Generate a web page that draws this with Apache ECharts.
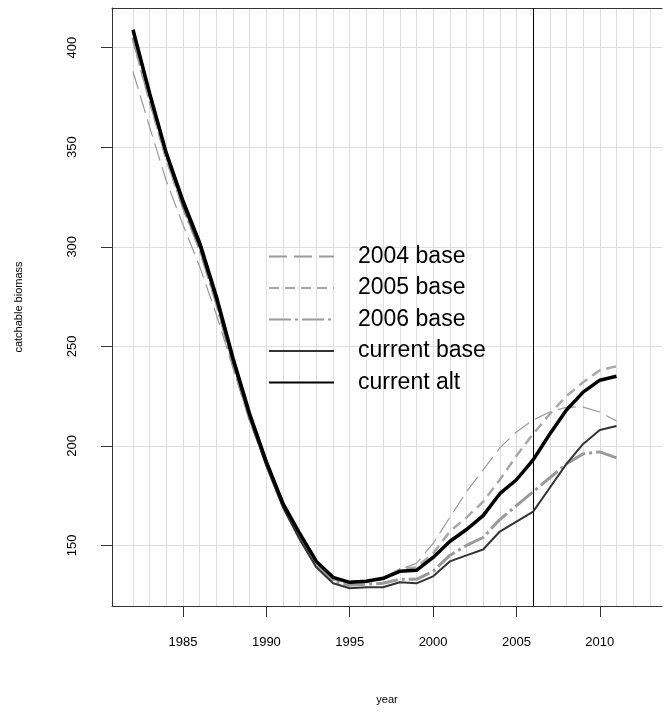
<!DOCTYPE html>
<html>
<head>
<meta charset="utf-8">
<script src="https://cdn.jsdelivr.net/npm/echarts@6/dist/echarts.min.js"></script>
<style>html,body{margin:0;padding:0;background:#fff}#c{width:665px;height:711px}</style>
</head>
<body>
<div id="c"></div>
<script>
var years = [1982,1983,1984,1985,1986,1987,1988,1989,1990,1991,1992,1993,1994,1995,1996,1997,1998,1999,2000,2001,2002,2003,2004,2005,2006,2007,2008,2009,2010,2011];
var base2004 = [388,360,333,311,290,266,239,212,190,170,154,141,133,131,132,134,138,141,151,164,177,188,199,207,213,217,219.5,219.5,217,212.5];
var base2005 = [404,373,344,320,299,272,242,215,192,171,155,141,133,131,132,133,138,139,146,157,164,172,183,195,206,216,225,232,238,240];
var base2006 = [405,374,345,320,299,272,241,214,191,170,154,140,132,130,130.5,131,133,133,137,145,150,154,163,170,177,184,191,196,197,194];
var currentBase = [408,376,346,321,300,273,242,214,190,169,153,139,131,128.5,129,129,131.5,131,134.5,142,145,148,157,162,167,179,191,201,208,210];
var currentAlt = [409,377,347,323,302,275,244,216,192,171,156,142,134,131.5,132,133.5,137,137.5,144,152,158,165,176,183,193,206,218,227,233,235];
var xTickLabels = [1985,1990,1995,2000,2005,2010];
var yTickLabels = [150,200,250,300,350,400];
var gridYears = [1982,1983,1984,1985,1986,1987,1988,1989,1990,1991,1992,1993,1994,1995,1996,1997,1998,1999,2000,2001,2002,2003,2004,2005,2006,2007,2008,2009,2010,2011,2012,2013];
var refYear = 2006;
var seriesNames = ['2004 base','2005 base','2006 base','current base','current alt'];

function pairs(v){ return years.map(function(y,i){ return [y, v[i]]; }); }

var FONT = 'Liberation Sans, Arial, sans-serif';
var xMin = 1980.74, xMax = 2013.73, yMin = 119.6, yMax = 419.9;

var styles = [
  {color:'#9a9a9a', width:1.2, type:[18,7]},
  {color:'#a8a8a8', width:2.5, type:[10,6]},
  {color:'#9a9a9a', width:3, type:[22,4,3,4]},
  {color:'#333333', width:2, type:'solid'},
  {color:'#000000', width:3.5, type:'solid'}
];
var datas = [base2004, base2005, base2006, currentBase, currentAlt];

var series = datas.map(function(d,i){
  return {
    name: seriesNames[i], type:'line', xAxisIndex:0, yAxisIndex:0,
    data: pairs(d), symbol:'none', smooth:false, silent:true,
    lineStyle: {color: styles[i].color, width: styles[i].width, type: styles[i].type},
    itemStyle: {color: styles[i].color},
    z: 3 + i
  };
});
series[0].markLine = {
  silent:true, symbol:['none','none'], label:{show:false},
  lineStyle:{color:'#000', width:1, type:'solid'},
  data:[{xAxis: refYear}], z: 2
};

var chart = echarts.init(document.getElementById('c'), null, {renderer:'canvas'});
chart.setOption({
  backgroundColor:'#fff',
  animation:false,
  grid:{left:112, right:3, top:8, bottom:105, containLabel:false},
  legend:{
    orient:'vertical', left:263, top:240, itemGap:8.5, itemWidth:65, itemHeight:14,
    selectedMode:false,
    itemStyle:{opacity:0},
    textStyle:{fontFamily:FONT, fontSize:23, color:'#000', lineHeight:23, padding:[0,0,0,19]},
    data: seriesNames
  },
  xAxis:[{
    type:'value', min:xMin, max:xMax, position:'bottom',
    axisLine:{show:true, onZero:false, lineStyle:{color:'#333', width:1}},
    axisTick:{show:true, customValues: xTickLabels, length:11, inside:false, lineStyle:{color:'#333'}},
    axisLabel:{show:true, customValues: xTickLabels, margin:30, fontFamily:FONT, fontSize:13, color:'#000', formatter:function(v){return String(v);}},
    splitLine:{show:false},
    name:'year', nameLocation:'middle', nameGap:88, nameTextStyle:{fontFamily:FONT, fontSize:11, color:'#000'}
  },{
    type:'value', min:xMin, max:xMax, position:'top',
    axisLine:{show:true, onZero:false, lineStyle:{color:'#333', width:1}},
    axisTick:{show:false, customValues: gridYears},
    axisLabel:{show:false},
    splitLine:{show:true, lineStyle:{color:'#dedede', width:1}}
  }],
  yAxis:[{
    type:'value', min:yMin, max:yMax,
    axisLine:{show:true, onZero:false, lineStyle:{color:'#333', width:1}},
    axisTick:{show:true, customValues: yTickLabels, length:11, lineStyle:{color:'#333'}},
    axisLabel:{show:true, customValues: yTickLabels, rotate:90, margin:33, fontFamily:FONT, fontSize:13, color:'#000'},
    splitLine:{show:true, lineStyle:{color:'#dedede', width:1}},
    name:'catchable biomass', nameLocation:'middle', nameRotate:90, nameGap:88,
    nameTextStyle:{fontFamily:FONT, fontSize:11, color:'#000'}
  }],
  series: series
});
</script>
</body>
</html>
